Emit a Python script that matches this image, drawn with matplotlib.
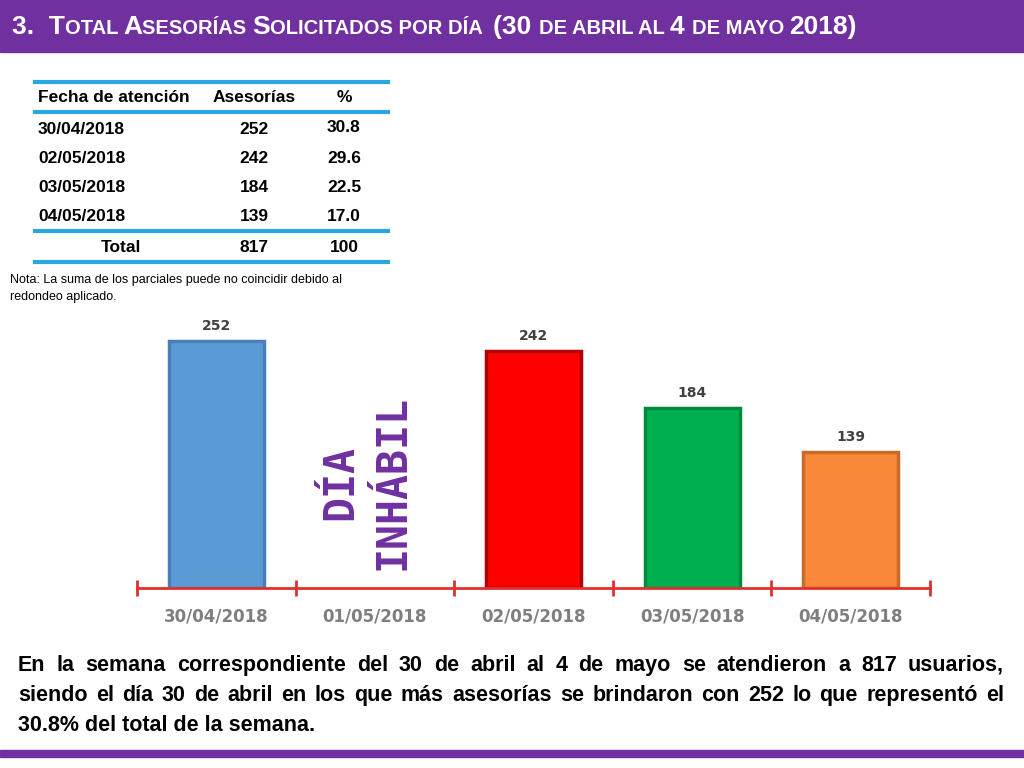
import matplotlib
matplotlib.use("Agg")
import matplotlib.pyplot as plt
from matplotlib.patches import Rectangle

fechas = ["30/04/2018", "01/05/2018", "02/05/2018", "03/05/2018", "04/05/2018"]
valores = [252, 0, 242, 184, 139]
colores = ["#5b9bd5", "#ffffff", "#ff0000", "#00b050", "#f98839"]
tabla_fechas = ["30/04/2018", "02/05/2018", "03/05/2018", "04/05/2018"]
tabla_ases = [252, 242, 184, 139]
tabla_pct = ["30.8", "29.6", "22.5", "17.0"]
total_ases = 817
total_pct = "100"

plt.rcParams["font.family"] = "Liberation Sans"
W, H = 1024, 768
fig = plt.figure(figsize=(10.24, 7.68), dpi=100)
def fx(x): return x / W
def fy(y): return 1 - y / H
r = fig.canvas.get_renderer()

fig.patches.append(Rectangle((0, fy(52)), 1, 52 / H, transform=fig.transFigure, color="#7030a0"))
fig.patches.append(Rectangle((0, fy(757)), 1, 7 / H, transform=fig.transFigure, color="#7030a0"))
x = 12
big, small = 19, 14.5
parts = [("3.  T", big), ("OTAL ", small), ("A", big), ("SESORÍAS ", small), ("S", big), ("OLICITADOS POR DÍA  ", small),
         ("(30 ", big), ("DE ABRIL AL ", small), ("4 ", big), ("DE MAYO ", small), ("2018)", big)]
for s, sz in parts:
    t = fig.text(fx(x), fy(34), s, color="white", fontsize=sz, fontweight="bold", va="baseline")
    x += t.get_window_extent(renderer=r).width

blue = "#2aa7e0"
for yy in [82, 112, 231, 262]:
    fig.add_artist(plt.Line2D([fx(35), fx(388)], [fy(yy), fy(yy)], color=blue, lw=3, transform=fig.transFigure))
fs = 12.5
fig.text(fx(38), fy(98), "Fecha de atención", fontsize=fs, fontweight="bold", va="center")
fig.text(fx(254), fy(98), "Asesorías", fontsize=fs, fontweight="bold", va="center", ha="center")
fig.text(fx(344), fy(98), "%", fontsize=fs, fontweight="bold", va="center", ha="center")
for i, (f, a, p) in enumerate(zip(tabla_fechas, tabla_ases, tabla_pct)):
    yy = 130 + i * 28.7
    fig.text(fx(38), fy(yy), f, fontsize=fs, fontweight="bold", va="center")
    fig.text(fx(254), fy(yy), str(a), fontsize=fs, fontweight="bold", va="center", ha="center")
    fig.text(fx(344), fy(yy - 3 if i == 0 else yy), p, fontsize=fs, fontweight="bold", va="center", ha="center")
fig.text(fx(121), fy(247), "Total", fontsize=fs, fontweight="bold", va="center", ha="center")
fig.text(fx(254), fy(247), str(total_ases), fontsize=fs, fontweight="bold", va="center", ha="center")
fig.text(fx(344), fy(247), total_pct, fontsize=fs, fontweight="bold", va="center", ha="center")
fig.text(fx(10), fy(280), "Nota: La suma de los parciales puede no coincidir debido al", fontsize=9, va="center")
fig.text(fx(10), fy(297), "redondeo aplicado.", fontsize=9, va="center")

ax = fig.add_axes([fx(137), fy(588), 793 / W, 255 / H])
xs = list(range(len(fechas)))
ax.bar(xs, valores, width=0.6, color=colores, edgecolor=["#4a7ebb", "none", "#b00000", "#008a3e", "#c76a2a"], lw=2.5)
for xi, v in zip(xs, valores):
    if v:
        ax.text(xi, v + 8, str(v), ha="center", va="bottom", fontsize=10, fontweight="bold", color="#404040",
                family="DejaVu Sans")
ax.set_xlim(-0.5, 4.5)
ax.set_ylim(0, 260)
for s in ["top", "right", "left"]:
    ax.spines[s].set_visible(False)
ax.spines["bottom"].set_color("#e03030")
ax.spines["bottom"].set_linewidth(2)
ax.set_yticks([])
ax.set_xticks([-0.5, 0.5, 1.5, 2.5, 3.5, 4.5])
ax.tick_params(axis="x", direction="inout", length=12, width=2, color="#e03030", labelbottom=False)
for xi, f in zip(xs, fechas):
    ax.text(xi, -0.11, f, transform=ax.get_xaxis_transform(), ha="center", va="center",
            fontsize=12, fontweight="bold", color="#7f7f7f", family="DejaVu Sans")
fig.text(fx(340), fy(482), "DÍA", rotation=90, ha="center", va="center",
         fontsize=30, fontweight="bold", color="#7030a0", family="DejaVu Sans Mono")
fig.text(fx(393), fy(482), "INHÁBIL", rotation=90, ha="center", va="center",
         fontsize=30, fontweight="bold", color="#7030a0", family="DejaVu Sans Mono")

lines = ["En la semana correspondiente del 30 de abril al 4 de mayo se atendieron a 817 usuarios,",
         "siendo el día 30 de abril en los que más asesorías se brindaron con 252 lo que representó el",
         "30.8% del total de la semana."]
left, right = 18, 1004
for i, l in enumerate(lines):
    yy = fy(671 + i * 30)
    words = l.split()
    if i == len(lines) - 1:
        fig.text(fx(left), yy, l, fontsize=15.5, fontweight="bold", va="baseline")
        continue
    ts = [fig.text(0, yy, w, fontsize=15.5, fontweight="bold", va="baseline") for w in words]
    widths = [t.get_window_extent(renderer=r).width for t in ts]
    gap = (right - left - sum(widths)) / (len(words) - 1)
    xx = left
    for t, wdt in zip(ts, widths):
        t.set_x(fx(xx))
        xx += wdt + gap

fig.savefig("out.png", dpi=100)
